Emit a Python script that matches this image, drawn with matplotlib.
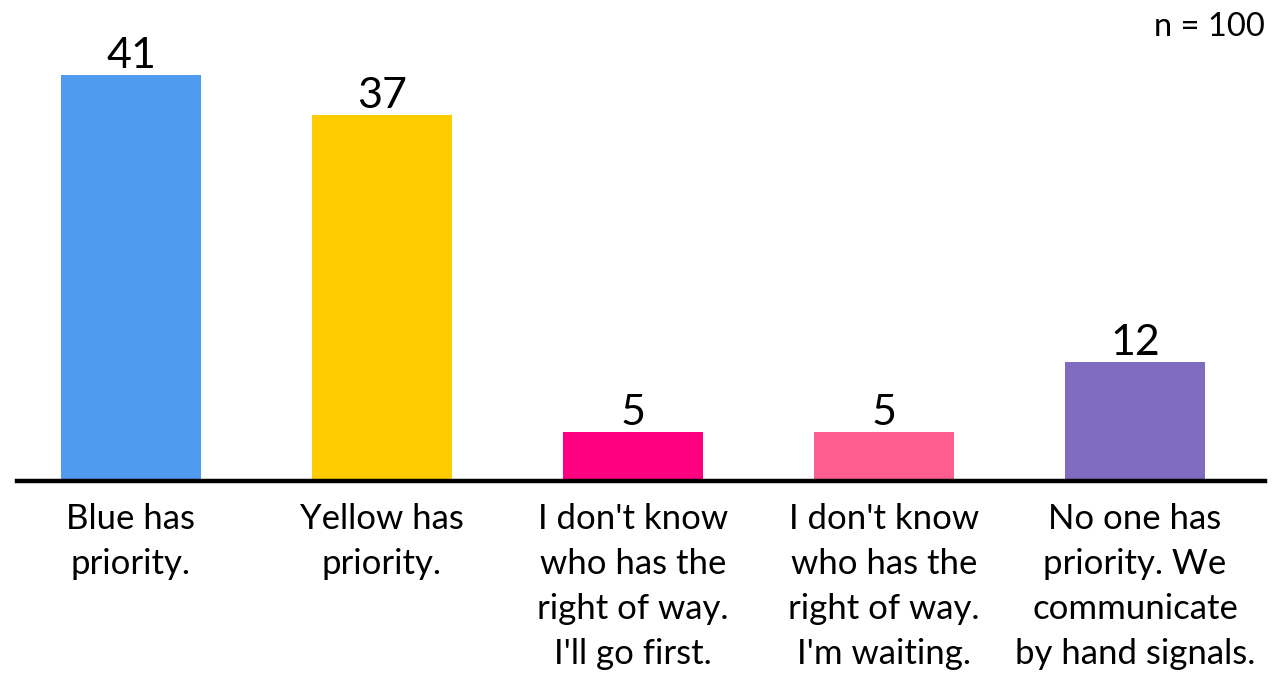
import matplotlib
matplotlib.use("Agg")
import matplotlib.pyplot as plt

categories = [
    "Blue has\npriority.",
    "Yellow has\npriority.",
    "I don't know\nwho has the\nright of way.\nI'll go first.",
    "I don't know\nwho has the\nright of way.\nI'm waiting.",
    "No one has\npriority. We\ncommunicate\nby hand signals.",
]
values = [41, 37, 5, 5, 12]
colors = ["#4E9BEF", "#FFCC00", "#FF0080", "#FF5C8F", "#7F6BC0"]
note = "n = 100"

plt.rcParams['font.family'] = ['Lato', 'DejaVu Sans']

W, H = 1281, 675
fig = plt.figure(figsize=(W / 100, H / 100), dpi=100)
base_px = 481
ax = fig.add_axes([17 / W, (H - base_px) / H, (1265 - 17) / W, base_px / H])

x = list(range(len(values)))
bars = ax.bar(x, values, width=0.558, color=colors, zorder=2)
ax.set_xlim(-0.454, 4.518)
ax.set_ylim(0, base_px / 9.9)

for xi, v in zip(x, values):
    ax.annotate(str(v), (xi, v), xytext=(0, 5), textcoords="offset points",
                ha="center", va="baseline", fontsize=31, color="black")

for s in ["top", "right", "left"]:
    ax.spines[s].set_visible(False)
ax.spines["bottom"].set_linewidth(3.2)
ax.spines["bottom"].set_color("black")
ax.spines["bottom"].set_zorder(3)
ax.set_yticks([])
ax.set_xticks(x)
ax.set_xticklabels(categories, fontsize=25, linespacing=1.5, va="top")
ax.tick_params(axis="x", length=0, pad=16)

fig.text(1265 / W, 1 - 27 / H, note, ha="right", va="center", fontsize=23.5)

fig.savefig("out.png", dpi=100, facecolor="white")
